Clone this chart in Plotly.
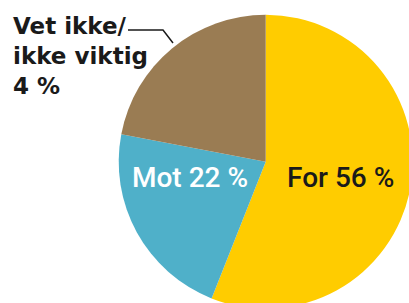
import plotly.graph_objects as go

labels = ["For", "Mot", "Vet ikke/ikke viktig"]
values = [56, 22, 22]
label_texts = ["For 56 %", "Mot 22 %", "Vet ikke/<br>ikke viktig<br>4 %"]
colors = ["#FFCC00", "#4FB0C9", "#9A7C53"]

W, H = 420, 312
cx, cy, r = 265.7, 161.7, 147.0

fig = go.Figure(go.Pie(
    labels=labels, values=values, sort=False, direction="clockwise", rotation=0,
    marker=dict(colors=colors, line=dict(width=0)),
    textinfo="none", hoverinfo="none", showlegend=False,
    domain=dict(x=[(cx - r) / W, (cx + r) / W], y=[(H - cy - r) / H, (H - cy + r) / H]),
))

def px(x):
    return x / W

def py(y):
    return 1 - y / H

fig.add_annotation(x=px(285), y=py(177), xref="paper", yref="paper", text=label_texts[0],
                   showarrow=False, xanchor="left", yanchor="middle",
                   font=dict(family="Roboto", size=28, color="#1a1a1a", weight=500))
fig.add_annotation(x=px(130), y=py(177), xref="paper", yref="paper", text=label_texts[1],
                   showarrow=False, xanchor="left", yanchor="middle",
                   font=dict(family="Roboto", size=28, color="#ffffff", weight=500))
fig.add_annotation(x=px(11), y=py(11), xref="paper", yref="paper", text=label_texts[2],
                   showarrow=False, xanchor="left", yanchor="top", align="left",
                   font=dict(family="DejaVu Sans", size=23, color="#1a1a1a", weight="bold"))
fig.add_shape(type="path", xref="paper", yref="paper",
              path=f"M {px(128)},{py(30)} L {px(163)},{py(30)} L {px(173)},{py(43)}",
              line=dict(color="#1a1a1a", width=1.5))

fig.update_layout(width=W, height=H, margin=dict(l=0, r=0, t=0, b=0),
                  paper_bgcolor="white", plot_bgcolor="white")
fig.write_html("out.html", config={"displayModeBar": False},
               post_script="document.documentElement.style.overflow='hidden';document.body.style.overflow='hidden';document.body.style.margin='0';")
